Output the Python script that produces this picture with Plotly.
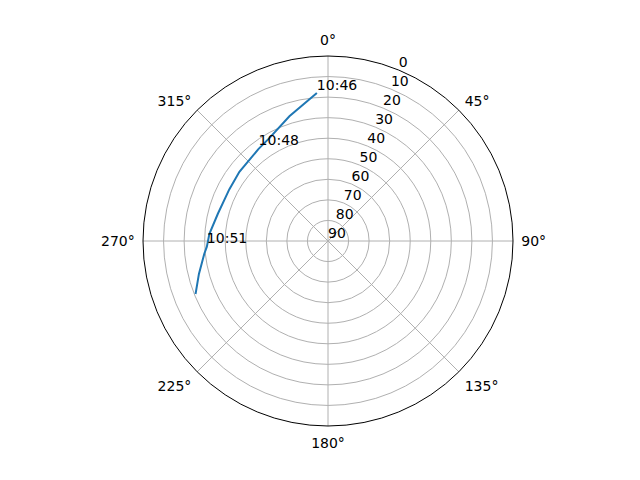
import plotly.graph_objects as go

# Sky track: azimuth (deg, clockwise from north) and elevation (deg)
azimuth = [355.7, 342.8, 330.3, 323.0, 308.0, 297.6, 283.9, 273.5, 267.3, 264.1, 255.7, 248.2]
elevation = [17.8, 26.5, 32.4, 33.9, 35.3, 35.8, 34.8, 32.2, 31.0, 29.5, 25.2, 20.6]
time_labels = ["10:46", "", "", "10:48", "", "", "", "", "10:51", "", "", ""]

radial_ticks = [0, 10, 20, 30, 40, 50, 60, 70, 80, 90]
radial_label_angle = 22.5
angular_ticks = [0, 45, 90, 135, 180, 225, 270, 315]

font = dict(family="DejaVu Sans", size=14, color="black")

fig = go.Figure()
fig.add_trace(go.Scatterpolar(
    r=elevation, theta=azimuth, mode="lines",
    line=dict(color="#1f77b4", width=2), hoverinfo="skip", showlegend=False,
))
lab_r = [e for e, t in zip(elevation, time_labels) if t]
lab_t = [a for a, t in zip(azimuth, time_labels) if t]
lab_s = [t for t in time_labels if t]
fig.add_trace(go.Scatterpolar(
    r=lab_r, theta=lab_t, mode="text", text=lab_s,
    textposition="top right", textfont=font, showlegend=False, hoverinfo="skip",
))
# radial tick labels (horizontal, as real text) along 22.5 deg
fig.add_trace(go.Scatterpolar(
    r=radial_ticks, theta=[radial_label_angle] * len(radial_ticks), mode="text",
    text=[str(v) for v in radial_ticks], textposition="top right",
    textfont=font, showlegend=False, hoverinfo="skip", cliponaxis=False,
))

fig.update_layout(
    width=640, height=480,
    margin=dict(l=0, r=0, t=0, b=0),
    paper_bgcolor="white",
    font=font,
    polar=dict(
        domain=dict(x=[135 / 640, 505 / 640],
                    y=[62 / 480, 432 / 480]),
        bgcolor="white",
        angularaxis=dict(
            rotation=90, direction="clockwise",
            tickmode="array", tickvals=angular_ticks,
            ticktext=[f"{a}°" for a in angular_ticks],
            showgrid=True, gridcolor="#b0b0b0", gridwidth=1,
            showline=True, linecolor="black", linewidth=1,
            ticks="outside", ticklen=5, tickcolor="rgba(0,0,0,0)",
            tickfont=font,
        ),
        radialaxis=dict(
            range=[90, 0], angle=90 - radial_label_angle,
            tickmode="array", tickvals=radial_ticks,
            showticklabels=False,
            showgrid=True, gridcolor="#b0b0b0", gridwidth=1,
            showline=False, ticks="",
        ),
    ),
)

fig.write_html("out.html")
